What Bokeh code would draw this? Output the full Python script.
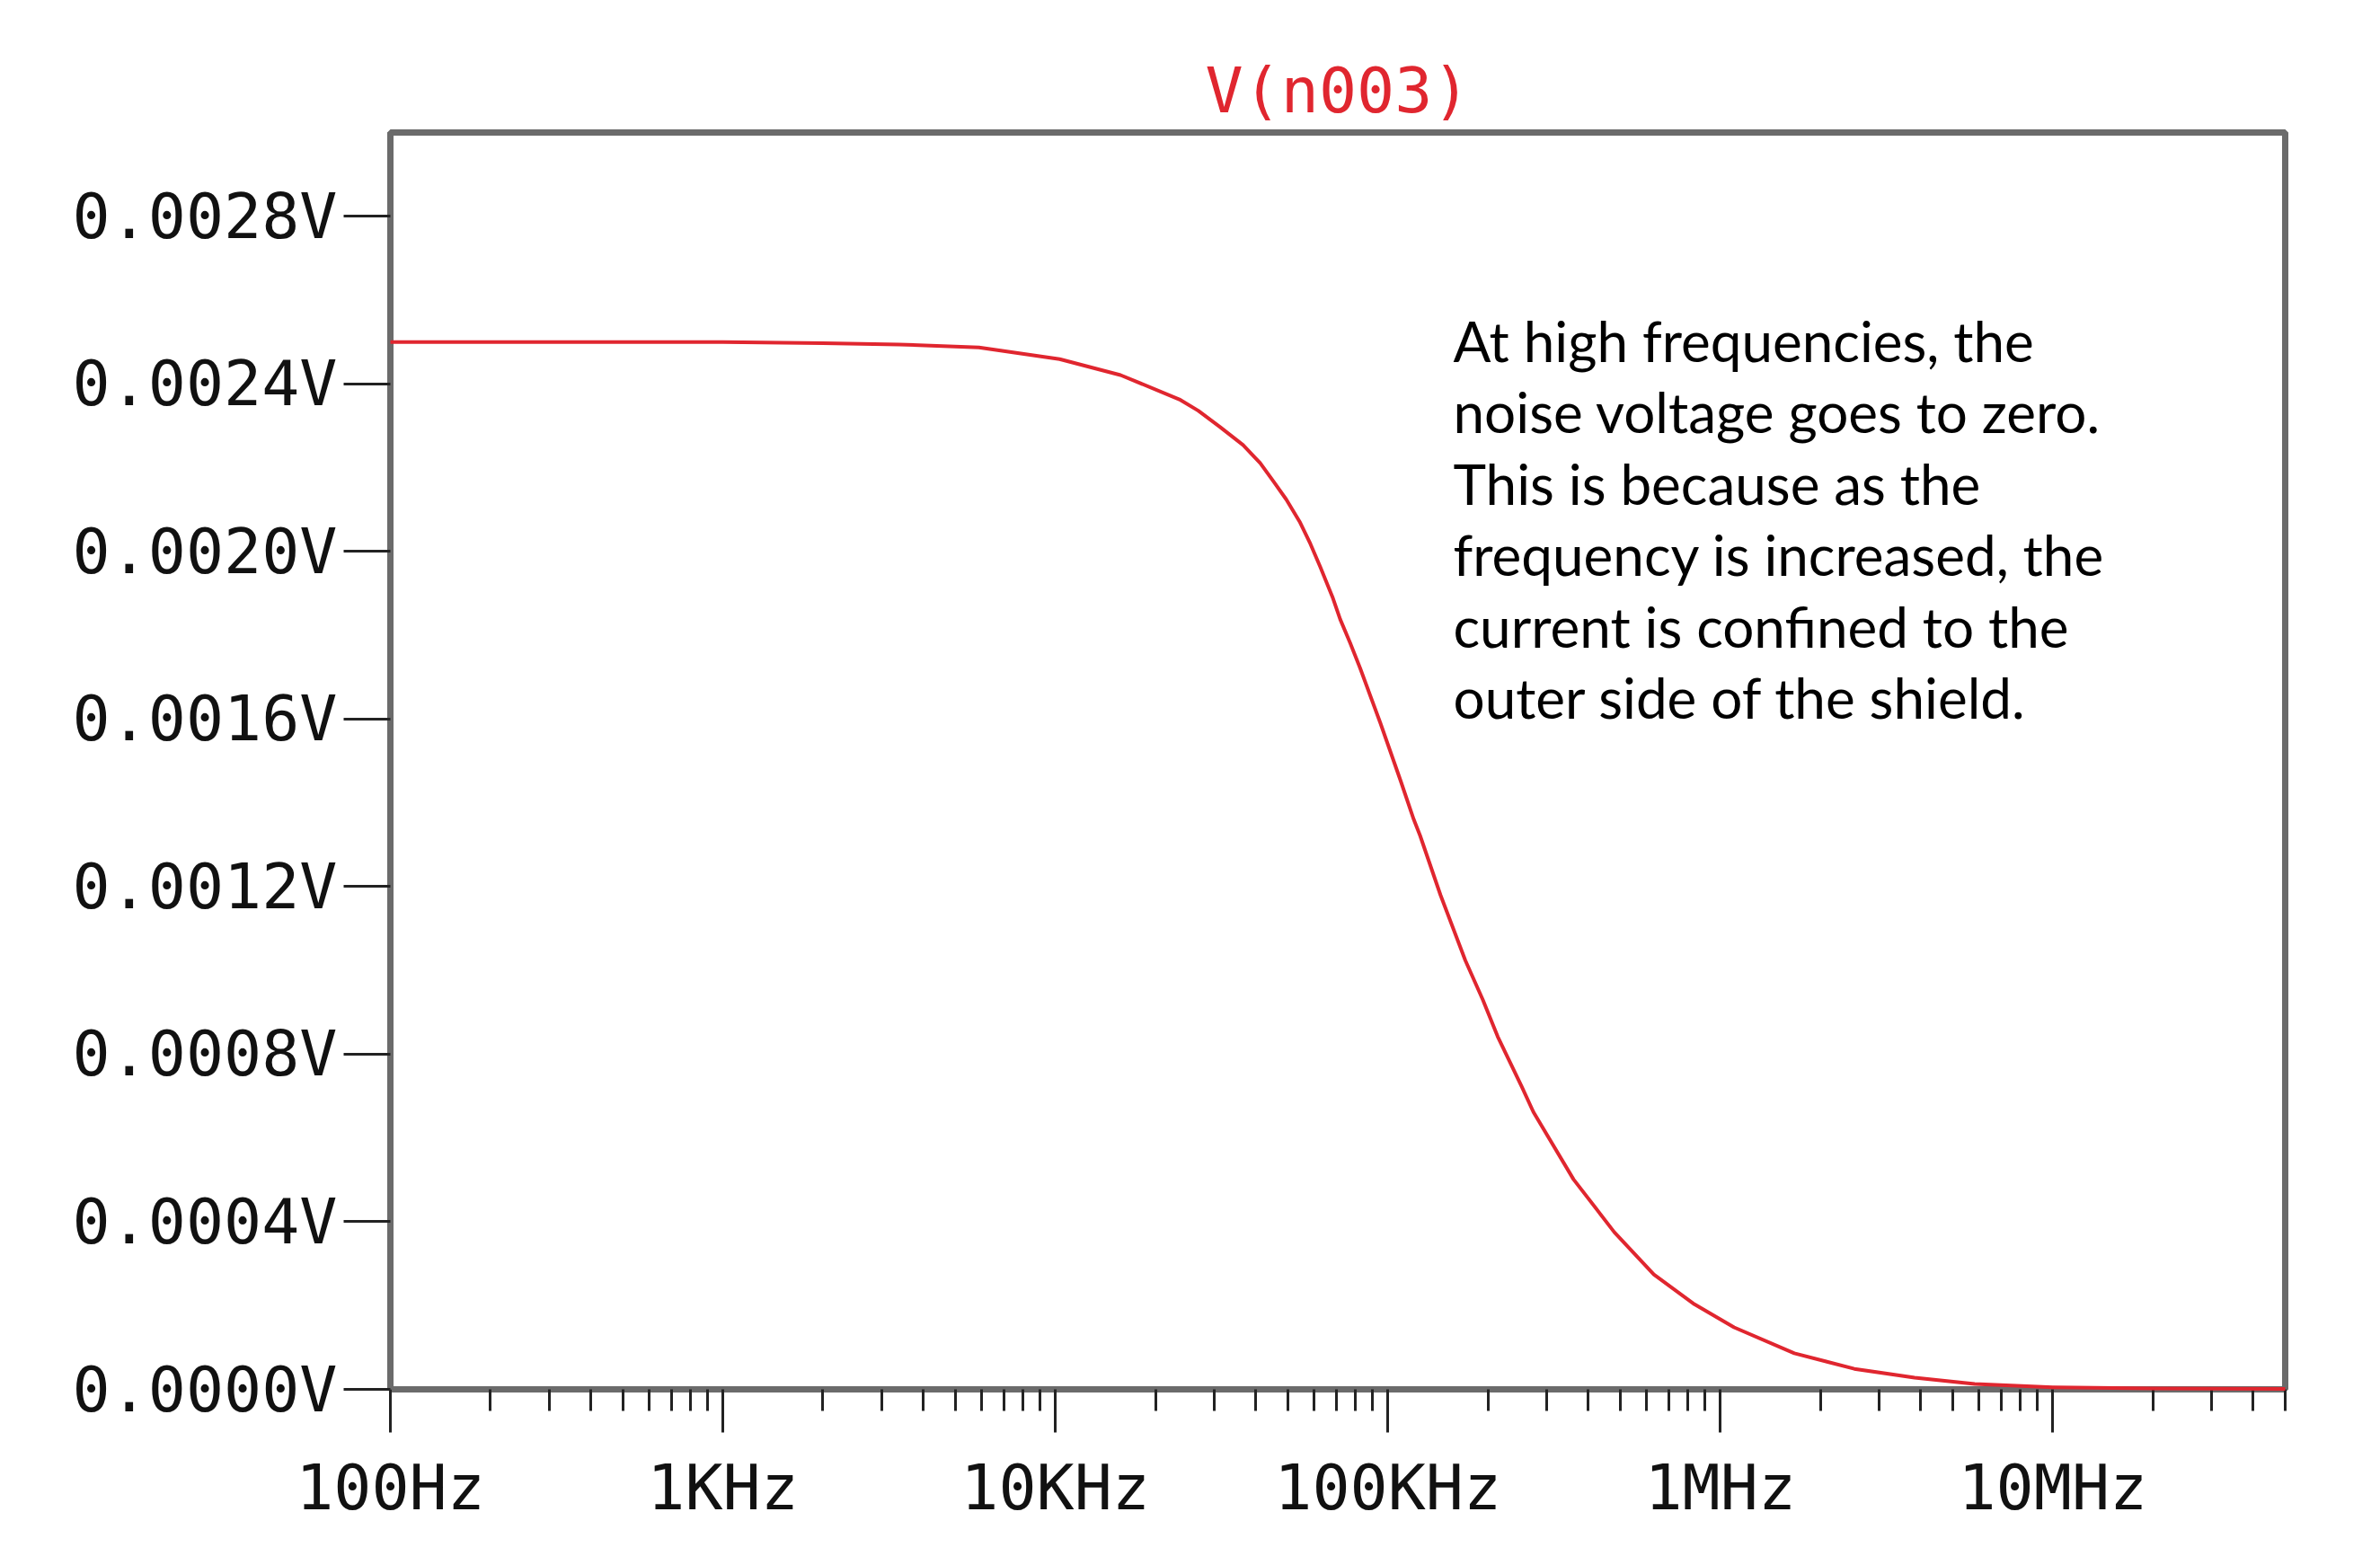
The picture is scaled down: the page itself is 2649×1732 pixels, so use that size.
from bokeh.plotting import figure
from bokeh.models import FixedTicker, PrintfTickFormatter, Label
from bokeh.embed import file_html
from bokeh.resources import INLINE

# AC sweep of node n003: frequency (Hz) and noise voltage magnitude (V)
freq_hz = [100, 300, 1000, 2000, 3390, 5890, 10300, 15700, 23600, 26900,
           31300, 36700, 41300, 45400, 49500, 54300, 58500, 62700, 68400,
           71900, 77000, 82500, 95000, 109000, 119700, 125000, 144000,
           171000, 193000, 214000, 253000, 274000, 362000, 480000, 631000,
           836000, 1100000, 1670000, 2530000, 3840000, 5820000, 10000000,
           20000000, 50000000]
v_n003 = [0.002500, 0.002500, 0.002500, 0.002497, 0.002494, 0.002487,
          0.002459, 0.002421, 0.002363, 0.002336, 0.002297, 0.002254,
          0.002211, 0.002166, 0.002124, 0.002071, 0.002018, 0.001962,
          0.001888, 0.001838, 0.001782, 0.001722, 0.001590, 0.001455,
          0.001360, 0.001322, 0.001180, 0.001024, 0.000930, 0.000842,
          0.000722, 0.000662, 0.000501, 0.000375, 0.000274, 0.000203,
          0.000148, 0.000086, 0.000049, 0.000028, 0.000013, 0.000005,
          0.000002, 0.000001]

# axis ticks
x_major = [100, 1000, 10000, 100000, 1000000, 10000000]
x_labels = ["100Hz", "1KHz", "10KHz", "100KHz", "1MHz", "10MHz"]
x_minor = [m * 10 ** d for d in range(2, 8) for m in range(2, 10) if m * 10 ** d <= 5e7]
y_ticks = [0.0, 0.0004, 0.0008, 0.0012, 0.0016, 0.0020, 0.0024, 0.0028]

note_lines = [
    "At high frequencies, the",
    "noise voltage goes to zero.",
    "This is because as the",
    "frequency is increased, the",
    "current is confined to the",
    "outer side of the shield.",
]

MONO = "DejaVu Sans Mono"
FRAME = "#6b6b6b"
TRACE = "#e0262f"

p = figure(width=2649, height=1732, x_axis_type="log",
           x_range=(100, 5e7), y_range=(0, 0.003),
           output_backend="svg", toolbar_location=None,
           min_border_left=434, min_border_right=106,
           min_border_top=147, min_border_bottom=186)

p.background_fill_color = "white"
p.border_fill_color = "white"
p.outline_line_color = FRAME
p.outline_line_width = 7
p.xgrid.visible = False
p.ygrid.visible = False

# trace name as the title
p.title.text = "V(n003)"
p.title.align = "center"
p.title.text_font = MONO
p.title.text_font_size = "70px"
p.title.text_font_style = "normal"
p.title.text_color = TRACE
p.title.standoff = 12

# frequency axis
xa = p.xaxis[0]
xa.ticker = FixedTicker(ticks=x_major, minor_ticks=x_minor)
xa.major_label_overrides = dict(zip(x_major, x_labels))
xa.axis_line_color = FRAME
xa.axis_line_width = 7
xa.major_tick_in = 0
xa.major_tick_out = 48
xa.minor_tick_in = 0
xa.minor_tick_out = 24
xa.major_tick_line_color = "#222222"
xa.major_tick_line_width = 3
xa.minor_tick_line_color = "#222222"
xa.minor_tick_line_width = 3
xa.major_label_text_font = MONO
xa.major_label_text_font_size = "70px"
xa.major_label_text_color = "#111111"
xa.major_label_standoff = 20

# voltage axis
ya = p.yaxis[0]
ya.ticker = FixedTicker(ticks=y_ticks)
ya.formatter = PrintfTickFormatter(format="%.4fV")
ya.axis_line_color = FRAME
ya.axis_line_width = 7
ya.major_tick_in = 0
ya.major_tick_out = 52
ya.major_tick_line_color = "#222222"
ya.major_tick_line_width = 3
ya.minor_tick_line_color = None
ya.major_label_text_font = MONO
ya.major_label_text_font_size = "70px"
ya.major_label_text_color = "#111111"
ya.major_label_standoff = 7

# trace
p.line(freq_hz, v_n003, line_color=TRACE, line_width=4,
       line_join="round", level="overlay")

# explanatory note, one label per line (screen units from frame bottom-left)
note_left = 1183
first_baseline = 1168
line_pitch = 79.5
for i, line in enumerate(note_lines):
    p.add_layout(Label(x=note_left, y=first_baseline - i * line_pitch,
                       x_units="screen", y_units="screen", text=line,
                       text_font="Lato", text_font_size="62px",
                       text_color="black", text_baseline="alphabetic",
                       text_align="left"))

open("out.html", "w").write(file_html(p, INLINE))
